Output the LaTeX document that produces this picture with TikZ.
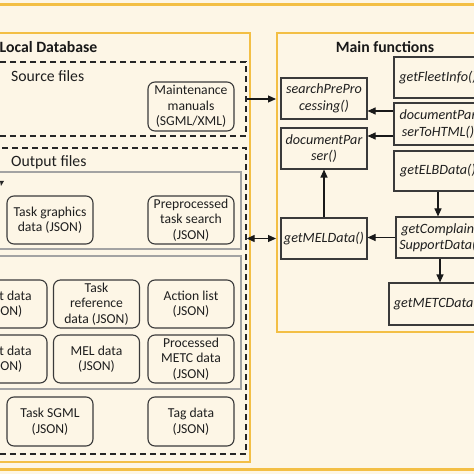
\documentclass[tikz,border=0pt]{standalone}
\usepackage{fontspec}
\setmainfont{Carlito}
\usetikzlibrary{arrows.meta}
\definecolor{cream}{HTML}{FDF6E6}
\definecolor{gold}{HTML}{F3BF45}
\definecolor{ink}{HTML}{3A3A3A}
\definecolor{boxgray}{HTML}{A3A3A3}
\begin{document}
\begin{tikzpicture}[x=1bp,y=-1bp,
  txt/.style={font=\fontsize{13.7}{15.5}\selectfont, text=black!88},
  filebox/.style={txt, draw=ink, line width=1.1bp, rounded corners=7bp, fill=cream,
    minimum width=86bp, minimum height=48bp, inner sep=0.5bp, align=center},
  fnbox/.style={draw=ink, line width=1.1bp, fill=cream, minimum width=86bp,
    minimum height=41bp, inner sep=0.5bp, align=center,
    font=\fontsize{14.2}{16.5}\selectfont\itshape, text=black!88},
  yellowbox/.style={draw=gold, line width=2bp, inner sep=0pt},
  dashbox/.style={draw=black!85, line width=1.3bp, dash pattern=on 6bp off 4bp, inner sep=0pt},
  graybox/.style={draw=boxgray, line width=1.2bp, inner sep=0pt},
  title/.style={font=\fontsize{15.8}{18}\selectfont\bfseries, text=black!90},
  subtitle/.style={font=\fontsize{15.8}{18}\selectfont, text=black!88, anchor=west, inner sep=0pt},
  arr/.style={line width=1.1bp, draw=black!90, -{Triangle[length=8bp,width=7bp]}},
  darr/.style={line width=1.1bp, draw=black!90, {Triangle[length=8bp,width=7bp]}-{Triangle[length=8bp,width=7bp]}}
]
\useasboundingbox (0,0) rectangle (474,474);
\clip (0,0) rectangle (474,474);
\fill[cream] (0,0) rectangle (474,474);
% outer band
\node[draw=gold, line width=3bp, inner sep=0pt, minimum width=500bp, minimum height=464bp] (band) at (237,237) {};
% Local database
\node[yellowbox, minimum width=260bp, minimum height=429bp] (ldb) at (120,247.5) {};
\node[title, anchor=west, inner sep=0pt] (ldbt) at (-0.5,47) {Local Database};
% Source files
\node[dashbox, minimum width=256bp, minimum height=74bp] (src) at (118,99) {};
\node[subtitle] (srct) at (11,76) {Source files};
\node[filebox, minimum height=49bp] (mm) at (191,106.5) {Maintenance\\manuals\\(SGML/XML)};
% Output files
\node[dashbox, minimum width=256bp, minimum height=306bp] (out) at (118,301) {};
\node[subtitle] (outt) at (11,162) {Output files};
\node[graybox, minimum width=251bp, minimum height=77bp] (g1) at (115.5,210.5) {};
\node[graybox, minimum width=251bp, minimum height=133bp] (g2) at (115.5,322.5) {};
\fill[black!85] (0,181) -- (4,181) -- (1,186) -- cycle;
\node[filebox] (tg) at (50,220) {Task graphics\\data (JSON)};
\node[filebox] (pts) at (191,220) {Preprocessed\\task search\\(JSON)};
\node[filebox] (fd) at (4,304) {Fleet data\\(JSON)};
\node[filebox] (trd) at (96.5,304) {Task\\reference\\data (JSON)};
\node[filebox] (al) at (191,304) {Action list\\(JSON)};
\node[filebox] (dd) at (4,359) {Fleet data\\(JSON)};
\node[filebox] (meld) at (96.5,359) {MEL data\\(JSON)};
\node[filebox] (pmd) at (191,359) {Processed\\METC data\\(JSON)};
\node[filebox, minimum height=49bp] (ts) at (50,421.5) {Task SGML\\(JSON)};
\node[filebox, minimum height=49bp] (tag) at (191,421.5) {Tag data\\(JSON)};
% Main functions
\node[yellowbox, minimum width=223bp, minimum height=299bp] (mf) at (388.5,182.5) {};
\node[title, inner sep=0pt] (mft) at (385,47) {Main functions};
\node[fnbox] (spp) at (324,98.5) {searchPrePro\\cessing()};
\node[fnbox] (dp) at (324,148.5) {documentPar\\ser()};
\node[fnbox] (mel) at (324,238.5) {getMELData()};
\node[fnbox, minimum width=88bp] (fi) at (438,77.5) {getFleetInfo()};
\node[fnbox, minimum width=88bp, minimum height=42bp] (dph) at (438,124) {documentPar\\serToHTML()};
\node[fnbox, minimum width=88bp, minimum height=40bp] (elb) at (438,171) {getELBData()};
\node[fnbox, minimum width=88bp] (gc) at (440,237.5) {getComplaint\\SupportData()};
\node[fnbox, minimum width=98bp, minimum height=42bp] (metc) at (438,304) {getMETCData()};
% connectors
\draw[arr] (src.east) -- (mf.west |- src.east);
\draw[darr] (out.east |- mel.west) -- (mf.west |- mel.west);
\draw[arr] (dph.west |- 0,111) -- (spp.east |- 0,111);
\draw[arr] (dph.west |- 0,136) -- (dp.east |- 0,136);
\draw[arr] (mel.north) -- (dp.south);
\draw[arr] (gc.west) -- (mel.east |- gc.west);
\draw[arr] (elb.south) -- (elb.south |- gc.north);
\draw[arr] (gc.south) -- (gc.south |- metc.north);
\end{tikzpicture}
\end{document}
